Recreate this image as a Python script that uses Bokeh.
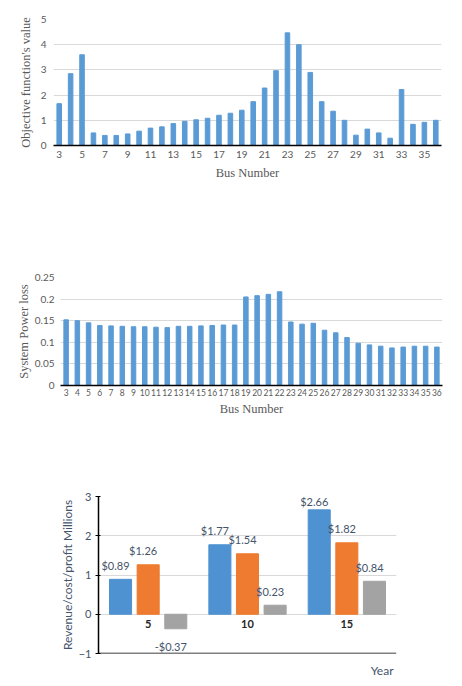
from bokeh.plotting import figure
from bokeh.layouts import column, row
from bokeh.models import FixedTicker, CustomJSTickFormatter, ColumnDataSource, FactorRange, Title, Span
from bokeh.transform import dodge
from bokeh.core.properties import value
from bokeh.embed import file_html
from bokeh.resources import INLINE

# data
buses = list(range(3, 37))
objective = [1.66, 2.85, 3.60, 0.50, 0.40, 0.40, 0.46, 0.57, 0.69, 0.74,
             0.87, 0.96, 1.02, 1.08, 1.20, 1.28, 1.40, 1.74, 2.28, 2.97,
             4.47, 4.00, 2.90, 1.74, 1.36, 1.00, 0.41, 0.65, 0.50, 0.29,
             2.22, 0.84, 0.92, 1.00]
power_loss = [0.152, 0.150, 0.145, 0.139, 0.138, 0.137, 0.136, 0.136, 0.135, 0.134,
              0.137, 0.137, 0.138, 0.139, 0.140, 0.140, 0.205, 0.208, 0.211, 0.217,
              0.147, 0.142, 0.144, 0.128, 0.122, 0.111, 0.098, 0.094, 0.091, 0.087,
              0.089, 0.091, 0.091, 0.089]
objective_ticks = [0, 1, 2, 3, 4, 5]
loss_ticks = [0, 0.05, 0.1, 0.15, 0.2, 0.25]

years = ["5", "10", "15"]
revenue = [0.89, 1.77, 2.66]
cost = [1.26, 1.54, 1.82]
profit = [-0.37, 0.23, 0.84]
money_ticks = [-1, 0, 1, 2, 3]

BLUE = "#5B9BD5"
GRID = "#D9D9D9"
TICK = "#595959"
SLATE = "#44546A"
SERIF = "Liberation Serif"
SANS = "Lato"
W = 454


def bus_chart(vals, ticks, ylabel, h, top, bottom, left, right, bus_ticks, tick_size, ymax):
    p = figure(width=W, height=h, output_backend="svg", toolbar_location=None,
               x_range=(2.5, 36.5), y_range=(0, ymax),
               min_border_top=top, min_border_left=left, min_border_right=right,
               min_border_bottom=bottom)
    p.vbar(x=buses, top=vals, width=0.4, color=BLUE)
    p.outline_line_color = None
    p.xgrid.grid_line_color = None
    p.ygrid.grid_line_color = GRID
    p.ygrid.ticker = FixedTicker(ticks=ticks)
    p.yaxis.ticker = FixedTicker(ticks=ticks)
    p.yaxis.formatter = CustomJSTickFormatter(code="return String(tick)")
    p.xaxis.ticker = FixedTicker(ticks=bus_ticks)
    p.yaxis.axis_line_color = None
    p.xaxis.axis_line_color = "black"
    p.xaxis.axis_line_width = 1.5
    for ax in (p.xaxis, p.yaxis):
        ax.major_tick_line_color = None
        ax.minor_tick_line_color = None
        ax.major_tick_out = 0
        ax.minor_tick_out = 0
        ax.major_label_text_font = SANS
        ax.major_label_text_color = TICK
        ax.axis_label_text_font = SERIF
        ax.axis_label_text_font_style = "normal"
        ax.axis_label_text_color = TICK
        ax.axis_label_text_font_size = "12.5px"
    p.yaxis.major_label_text_font_size = "10px"
    p.xaxis.major_label_text_font_size = tick_size
    p.yaxis.axis_label = ylabel
    p.xaxis.axis_label = "Bus Number"
    return p


p1 = bus_chart(objective, objective_ticks, "Objective function's value", 215, 19, 70, 53, 13,
               buses[::2], "10px", 5)
p1.xaxis.major_label_standoff = 5
p1.xaxis.axis_label_standoff = 5
p1.yaxis.major_label_standoff = 7
p1.yaxis.axis_label_standoff = 5

p2 = bus_chart(power_loss, loss_ticks, "System Power loss", 255, 62, 85, 60, 12,
               buses, "8.5px", 0.25)
p2.xaxis.major_label_standoff = 3
p2.xaxis.axis_label_standoff = 3
p2.yaxis.major_label_standoff = 6
p2.yaxis.axis_label_standoff = 1

# revenue / cost / profit chart
top = money_ticks[-1]
src = ColumnDataSource(dict(
    year=years, revenue=revenue, cost=cost, profit=profit,
    rev_lbl=["${:.2f}".format(v) for v in revenue],
    cost_lbl=["${:.2f}".format(v) for v in cost],
    prof_lbl=[("-$" if v < 0 else "$") + "{:.2f}".format(abs(v)) for v in profit],
    # keep labels inside the plot area, below for negative bars
    rev_off=[-14 if v + 0.4 < top else -8 for v in revenue],
    cost_off=[-14 if v + 0.4 < top else -8 for v in cost],
    prof_off=[18 if v < 0 else -14 for v in profit],
))

p3 = figure(width=W, height=214, output_backend="svg", toolbar_location=None,
            x_range=FactorRange(factors=years, range_padding=0), y_range=(-1, 3),
            min_border_top=26, min_border_left=98, min_border_right=58, min_border_bottom=28)
p3.outline_line_color = None

series = [("revenue", "rev_lbl", "rev_off", -0.278, "#4E92D2"),
          ("cost", "cost_lbl", "cost_off", 0.0, "#EE7B2F"),
          ("profit", "prof_lbl", "prof_off", 0.278, "#A3A3A3")]
for col, lbl, yoff, off, color in series:
    p3.vbar(x=dodge("year", off, range=p3.x_range), top=col, width=0.222,
            color=color, source=src)
    p3.text(x=dodge("year", off, range=p3.x_range), y=col, text=lbl, source=src,
            text_align="center", text_baseline="middle", x_offset=-5, y_offset=yoff,
            text_font=value(SANS), text_font_size="11px", text_color=SLATE)

# category labels sit on the zero line
p3.text(x="year", y=0, text="year", source=src, text_align="center",
        text_baseline="middle", y_offset=10, text_font=value(SANS),
        text_font_size="11px", text_font_style="bold", text_color="#262626")

p3.xgrid.grid_line_color = None
p3.ygrid.grid_line_color = GRID
p3.ygrid.ticker = FixedTicker(ticks=money_ticks)
p3.yaxis.ticker = FixedTicker(ticks=money_ticks)
p3.yaxis.axis_line_color = "black"
p3.yaxis.axis_line_width = 1.5
p3.yaxis.major_tick_line_color = "black"
p3.yaxis.major_tick_out = 3
p3.yaxis.major_tick_in = 2
p3.yaxis.minor_tick_line_color = None
p3.yaxis.minor_tick_out = 0
p3.yaxis.major_label_standoff = 4
p3.yaxis.major_label_text_font = SANS
p3.yaxis.major_label_text_font_size = "11px"
p3.yaxis.major_label_text_color = SLATE
p3.yaxis.axis_label = "Revenue/cost/profit Millions"
p3.yaxis.axis_label_text_font = SANS
p3.yaxis.axis_label_text_font_style = "normal"
p3.yaxis.axis_label_text_font_size = "12px"
p3.yaxis.axis_label_text_color = SLATE
p3.yaxis.axis_label_standoff = 1

p3.xaxis.visible = False
p3.add_layout(Span(location=money_ticks[0], dimension="width",
                   line_color="black", line_width=1.5))
p3.add_layout(Title(text="Year", align="right", offset=3, text_font=SANS,
                    text_font_size="12px", text_font_style="normal",
                    text_color=SLATE, standoff=14), "below")

layout = column(row(p1), row(p2), row(p3))
open("out.html", "w").write(file_html(layout, INLINE))
